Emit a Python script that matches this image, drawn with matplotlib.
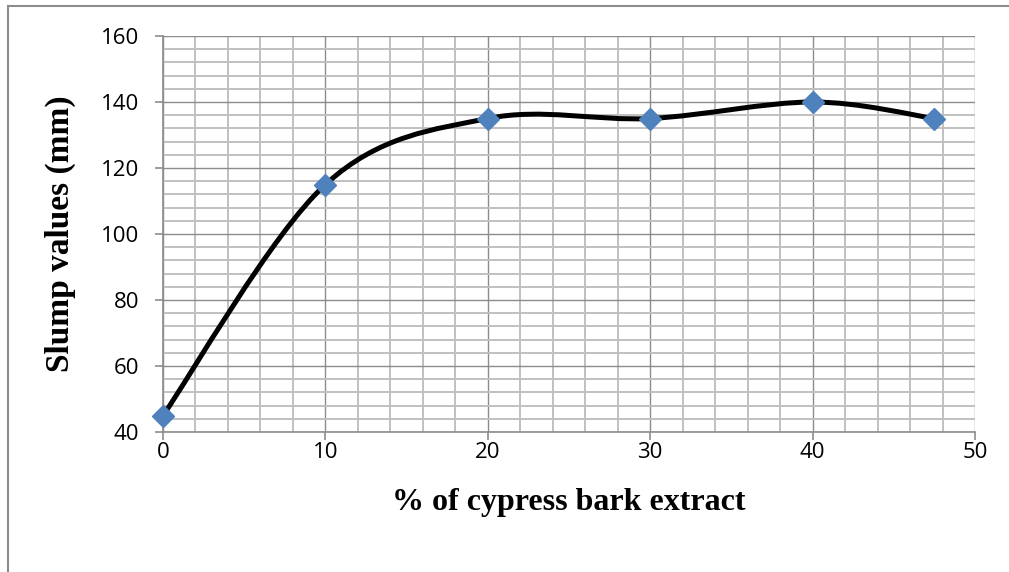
import matplotlib.pyplot as plt
from matplotlib.path import Path
from matplotlib.patches import PathPatch
from matplotlib.lines import Line2D
from matplotlib.ticker import MultipleLocator
import numpy as np

# % of cypress bark extract vs measured slump
extract_pct = [0, 10, 20, 30, 40, 47.5]
slump_mm = [45, 115, 135, 135, 140, 135]


def smooth_path(xs, ys):
    """Catmull-Rom style Bezier path through the points (like a smoothed line)."""
    pts = np.column_stack([xs, ys]).astype(float)
    verts = [pts[0]]
    codes = [Path.MOVETO]
    n = len(pts)
    for i in range(n - 1):
        p0 = pts[i - 1] if i > 0 else pts[i]
        p1 = pts[i]
        p2 = pts[i + 1]
        p3 = pts[i + 2] if i + 2 < n else pts[i + 1]
        c1 = p1 + (p2 - p0) / 6.0
        c2 = p2 - (p3 - p1) / 6.0
        verts += [c1, c2, p2]
        codes += [Path.CURVE4] * 3
    return Path(verts, codes)


fig = plt.figure(figsize=(10.09, 5.72), dpi=100)
ax = fig.add_axes([163 / 1009, 1 - 432 / 572, 812 / 1009, 396 / 572])

ax.set_xlim(0, 50)
ax.set_ylim(40, 160)
ax.xaxis.set_major_locator(MultipleLocator(10))
ax.xaxis.set_minor_locator(MultipleLocator(2))
ax.yaxis.set_major_locator(MultipleLocator(20))
ax.yaxis.set_minor_locator(MultipleLocator(4))

ax.grid(which='major', color='#8c8c8c', linewidth=1.0)
ax.grid(which='minor', color='#c0c0c0', linewidth=1.4)
ax.set_axisbelow(True)

for side in ['top', 'right']:
    ax.spines[side].set_visible(False)
for side in ['left', 'bottom']:
    ax.spines[side].set_color('#8c8c8c')
    ax.spines[side].set_linewidth(1.2)

ax.tick_params(which='major', direction='out', length=6, width=1.2,
               color='#8c8c8c', labelsize=16)
ax.tick_params(which='minor', length=0)
ax.tick_params(axis='x', pad=1)
ax.tick_params(axis='y', pad=11)
for lab in ax.get_xticklabels() + ax.get_yticklabels():
    lab.set_fontfamily('Open Sans')

ax.add_patch(PathPatch(smooth_path(extract_pct, slump_mm), facecolor='none',
                       edgecolor='black', linewidth=3.6, zorder=3))
ax.plot(extract_pct, slump_mm, linestyle='none', marker='D', markersize=11,
        color='#4f81bd', zorder=4, clip_on=False)

ax.set_xlabel('% of cypress bark extract', fontfamily='Liberation Serif',
              fontweight='bold', fontsize=23, labelpad=18)
ax.set_ylabel('Slump values (mm)', fontfamily='Liberation Serif',
              fontweight='bold', fontsize=24, labelpad=18)

# chart frame (left and top edges)
fig.add_artist(Line2D([8 / 1009, 8 / 1009], [0, 1 - 6 / 572],
                      transform=fig.transFigure, color='#8c8c8c', linewidth=1.5))
fig.add_artist(Line2D([8 / 1009, 1], [1 - 6 / 572, 1 - 6 / 572],
                      transform=fig.transFigure, color='#8c8c8c', linewidth=1.5))

fig.savefig('out.png', dpi=100)
